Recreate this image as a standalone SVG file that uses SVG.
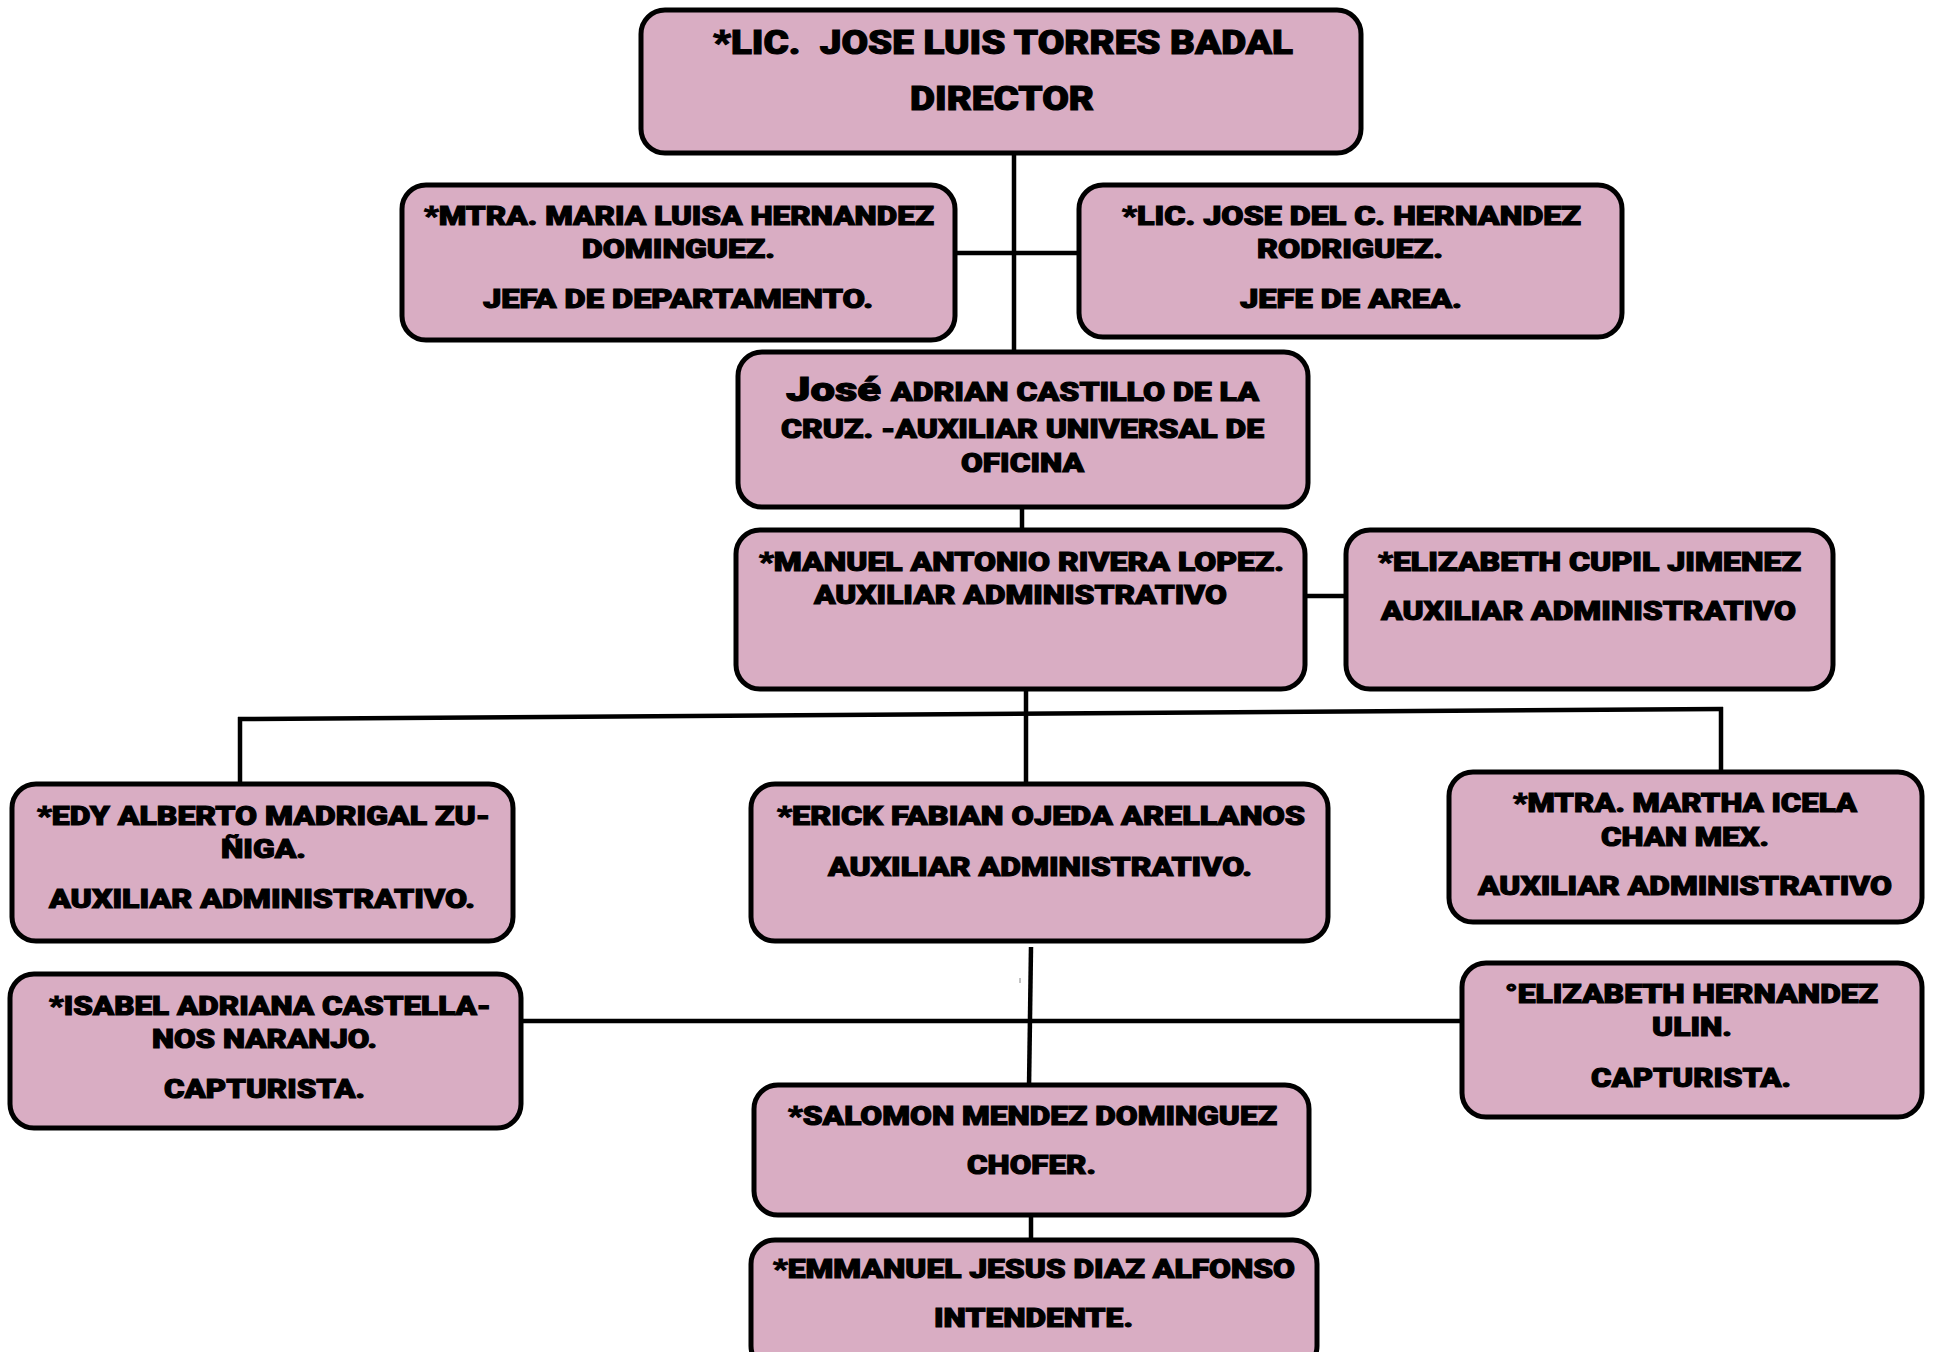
<svg xmlns="http://www.w3.org/2000/svg" width="1934" height="1352" viewBox="0 0 1934 1352">
<style>
.box{fill:#d9adc3;stroke:#000;stroke-width:5}
.t{font-family:Roboto,"Liberation Sans",Arial,sans-serif;font-weight:900;font-size:26px;fill:#000;stroke:#000;stroke-width:1.1}
.big{font-size:34px}
.c{stroke:#000;stroke-width:4.5;fill:none}
</style>
<rect width="1934" height="1352" fill="#fff"/>
<g id="connectors">
<line class="c" x1="1014" y1="153" x2="1014" y2="352"/>
<line class="c" x1="955" y1="253" x2="1079" y2="253"/>
<line class="c" x1="1022" y1="503" x2="1022" y2="533"/>
<line class="c" x1="1305" y1="596" x2="1346" y2="596"/>
<line class="c" x1="1026" y1="689" x2="1026" y2="789"/>
<line class="c" x1="238" y1="719" x2="1723" y2="709"/>
<line class="c" x1="240" y1="717" x2="240" y2="784"/>
<line class="c" x1="1721" y1="707" x2="1721" y2="772"/>
<line class="c" x1="1031" y1="947" x2="1029" y2="1088"/>
<line class="c" x1="521" y1="1021" x2="1462" y2="1021"/>
<line x1="1020" y1="978" x2="1020" y2="983" stroke="#888" stroke-width="1"/>
<line class="c" x1="1031" y1="1212" x2="1031" y2="1243"/>
</g>
<g id="n-director">
<rect class="box" x="641" y="10" width="720" height="143" rx="24"/>
<text class="t big" x="713" y="54" textLength="580" lengthAdjust="spacingAndGlyphs">*LIC.&#160; JOSE LUIS TORRES BADAL</text>
<text class="t big" x="910" y="110" textLength="184" lengthAdjust="spacingAndGlyphs">DIRECTOR</text>
</g>
<g id="n-maria">
<rect class="box" x="402" y="185" width="553" height="155" rx="24"/>
<text class="t" x="424" y="225" textLength="510" lengthAdjust="spacingAndGlyphs">*MTRA. MARIA LUISA HERNANDEZ</text>
<text class="t" x="582" y="258" textLength="193" lengthAdjust="spacingAndGlyphs">DOMINGUEZ.</text>
<text class="t" x="483" y="308" textLength="390" lengthAdjust="spacingAndGlyphs">JEFA DE DEPARTAMENTO.</text>
</g>
<g id="n-josedelc">
<rect class="box" x="1079" y="185" width="543" height="152" rx="24"/>
<text class="t" x="1122" y="225" textLength="459" lengthAdjust="spacingAndGlyphs">*LIC. JOSE DEL C. HERNANDEZ</text>
<text class="t" x="1257" y="258" textLength="186" lengthAdjust="spacingAndGlyphs">RODRIGUEZ.</text>
<text class="t" x="1240" y="308" textLength="222" lengthAdjust="spacingAndGlyphs">JEFE DE AREA.</text>
</g>
<g id="n-joseadrian">
<rect class="box" x="738" y="352" width="570" height="155" rx="24"/>
<text class="t big" x="786" y="401" textLength="95" lengthAdjust="spacingAndGlyphs">José</text>
<text class="t" x="891" y="401" textLength="368" lengthAdjust="spacingAndGlyphs">ADRIAN CASTILLO DE LA</text>
<text class="t" x="781" y="438" textLength="483" lengthAdjust="spacingAndGlyphs">CRUZ. -AUXILIAR UNIVERSAL DE</text>
<text class="t" x="961" y="472" textLength="123" lengthAdjust="spacingAndGlyphs">OFICINA</text>
</g>
<g id="n-manuel">
<rect class="box" x="736" y="530" width="569" height="159" rx="24"/>
<text class="t" x="759" y="571" textLength="525" lengthAdjust="spacingAndGlyphs">*MANUEL ANTONIO RIVERA LOPEZ.</text>
<text class="t" x="814" y="604" textLength="413" lengthAdjust="spacingAndGlyphs">AUXILIAR ADMINISTRATIVO</text>
</g>
<g id="n-elizabethcupil">
<rect class="box" x="1346" y="530" width="487" height="159" rx="24"/>
<text class="t" x="1378" y="571" textLength="423" lengthAdjust="spacingAndGlyphs">*ELIZABETH CUPIL JIMENEZ</text>
<text class="t" x="1381" y="620" textLength="415" lengthAdjust="spacingAndGlyphs">AUXILIAR ADMINISTRATIVO</text>
</g>
<g id="n-edy">
<rect class="box" x="12" y="784" width="501" height="157" rx="24"/>
<text class="t" x="37" y="825" textLength="453" lengthAdjust="spacingAndGlyphs">*EDY ALBERTO MADRIGAL ZU-</text>
<text class="t" x="221" y="858" textLength="85" lengthAdjust="spacingAndGlyphs">ÑIGA.</text>
<text class="t" x="49" y="908" textLength="426" lengthAdjust="spacingAndGlyphs">AUXILIAR ADMINISTRATIVO.</text>
</g>
<g id="n-erick">
<rect class="box" x="751" y="784" width="577" height="157" rx="24"/>
<text class="t" x="777" y="825" textLength="528" lengthAdjust="spacingAndGlyphs">*ERICK FABIAN OJEDA ARELLANOS</text>
<text class="t" x="828" y="876" textLength="424" lengthAdjust="spacingAndGlyphs">AUXILIAR ADMINISTRATIVO.</text>
</g>
<g id="n-martha">
<rect class="box" x="1449" y="772" width="473" height="150" rx="24"/>
<text class="t" x="1513" y="812" textLength="344" lengthAdjust="spacingAndGlyphs">*MTRA. MARTHA ICELA</text>
<text class="t" x="1601" y="846" textLength="168" lengthAdjust="spacingAndGlyphs">CHAN MEX.</text>
<text class="t" x="1478" y="895" textLength="414" lengthAdjust="spacingAndGlyphs">AUXILIAR ADMINISTRATIVO</text>
</g>
<g id="n-isabel">
<rect class="box" x="10" y="974" width="511" height="154" rx="24"/>
<text class="t" x="49" y="1015" textLength="442" lengthAdjust="spacingAndGlyphs">*ISABEL ADRIANA CASTELLA-</text>
<text class="t" x="152" y="1048" textLength="225" lengthAdjust="spacingAndGlyphs">NOS NARANJO.</text>
<text class="t" x="164" y="1098" textLength="201" lengthAdjust="spacingAndGlyphs">CAPTURISTA.</text>
</g>
<g id="n-elizabethhernandez">
<rect class="box" x="1462" y="963" width="460" height="154" rx="24"/>
<text class="t" x="1505" y="1003" textLength="373" lengthAdjust="spacingAndGlyphs">°ELIZABETH HERNANDEZ</text>
<text class="t" x="1652" y="1036" textLength="80" lengthAdjust="spacingAndGlyphs">ULIN.</text>
<text class="t" x="1591" y="1087" textLength="200" lengthAdjust="spacingAndGlyphs">CAPTURISTA.</text>
</g>
<g id="n-salomon">
<rect class="box" x="754" y="1085" width="555" height="130" rx="24"/>
<text class="t" x="788" y="1125" textLength="489" lengthAdjust="spacingAndGlyphs">*SALOMON MENDEZ DOMINGUEZ</text>
<text class="t" x="967" y="1174" textLength="129" lengthAdjust="spacingAndGlyphs">CHOFER.</text>
</g>
<g id="n-emmanuel">
<rect class="box" x="751" y="1240" width="566" height="130" rx="24"/>
<text class="t" x="773" y="1278" textLength="522" lengthAdjust="spacingAndGlyphs">*EMMANUEL JESUS DIAZ ALFONSO</text>
<text class="t" x="934" y="1327" textLength="199" lengthAdjust="spacingAndGlyphs">INTENDENTE.</text>
</g>
</svg>
